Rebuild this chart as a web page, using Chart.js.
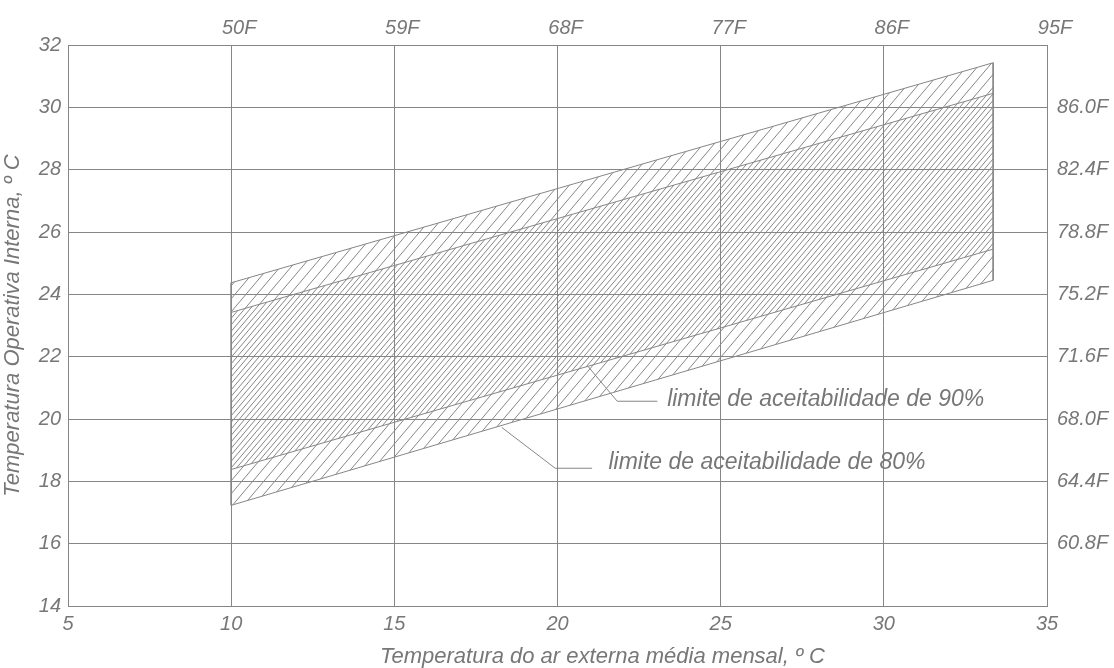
<!DOCTYPE html>
<html>
<head>
<meta charset="utf-8">
<script src="https://cdn.jsdelivr.net/npm/chart.js@4.4.1/dist/chart.umd.min.js"></script>
<style>
  html, body { margin: 0; padding: 0; background: #ffffff; }
  #wrap { width: 1114px; height: 668px; position: relative; }
</style>
</head>
<body>
<div id="wrap"><canvas id="c"></canvas></div>
<script>
// ---- data ----
const xTicksC = [5, 10, 15, 20, 25, 30, 35];
const yTicksC = [14, 16, 18, 20, 22, 24, 26, 28, 30, 32];
const topTickValues = [10, 15, 20, 25, 30, 35];
const topTickLabels = ['50F', '59F', '68F', '77F', '86F', '95F'];
const rightTickValues = [16, 18, 20, 22, 24, 26, 28, 30];
const rightTickLabels = ['60.8F', '64.4F', '68.0F', '71.6F', '75.2F', '78.8F', '82.4F', '86.0F'];

const bandX   = [10, 33.35];
const upper80 = [24.37, 31.43];
const lower80 = [17.23, 24.45];
const upper90 = [23.42, 30.45];
const lower90 = [18.38, 25.45];

const leader90X = [20.94, 21.83, 23.06];
const leader90Y = [21.68, 20.57, 20.57];
const leader80X = [18.29, 19.93, 21.06];
const leader80Y = [19.73, 18.42, 18.42];

const label90 = 'limite de aceitabilidade de 90%';
const label80 = 'limite de aceitabilidade de 80%';
const label90At = [23.36, 20.62];
const label80At = [21.56, 18.60];

const xTitle = 'Temperatura do ar externa média mensal, º C';
const yTitle = 'Temperatura Operativa Interna, º C';

// ---- styles ----
const LINE = '#868686';
const TEXT = '#777777';
const FAMILY = '"Liberation Sans", Arial, Helvetica, sans-serif';
const X_TITLE_SHIFT = 45;   // the reference's bottom title sits right of the plot centre
const X_TITLE_BASELINE = 663;

const canvas = document.getElementById('c');
const ctx = canvas.getContext('2d');

function hatch(offsetFrac) {
  const w = 11, h = 13;
  const t = document.createElement('canvas');
  t.width = w; t.height = h;
  const g = t.getContext('2d');
  g.strokeStyle = LINE;
  g.lineWidth = 1;
  for (let k = -2; k <= 2; k++) {
    const x0 = (k + offsetFrac) * w;
    g.beginPath();
    g.moveTo(x0, h);
    g.lineTo(x0 + w, 0);
    g.stroke();
  }
  return ctx.createPattern(t, 'repeat');
}
const pattern80 = hatch(0);
const pattern90 = hatch(0.5);

const pts = (xs, ys) => xs.map((x, i) => ({ x: x, y: ys[i] }));

const lineDs = (data, extra) => Object.assign({
  data: data,
  borderColor: LINE,
  borderWidth: 1,
  pointRadius: 0,
  showLine: true,
  fill: false,
  tension: 0
}, extra || {});

const annotations = {
  id: 'annotations',
  afterDatasetsDraw(chart) {
    const c = chart.ctx, xs = chart.scales.x, ys = chart.scales.y;
    c.save();
    c.fillStyle = TEXT;
    c.font = 'italic 23px ' + FAMILY;
    c.textBaseline = 'middle';
    c.textAlign = 'left';
    c.fillText(label90, xs.getPixelForValue(label90At[0]), ys.getPixelForValue(label90At[1]));
    c.fillText(label80, xs.getPixelForValue(label80At[0]), ys.getPixelForValue(label80At[1]));
    // bottom axis title
    c.font = 'italic 22px ' + FAMILY;
    c.textAlign = 'center';
    c.textBaseline = 'alphabetic';
    const a = chart.chartArea;
    c.fillText(xTitle, (a.left + a.right) / 2 + X_TITLE_SHIFT, X_TITLE_BASELINE);
    c.restore();
  }
};

const tickFont = { family: FAMILY, size: 20, style: 'italic' };
const titleFont = { family: FAMILY, size: 22, style: 'italic' };

new Chart(ctx, {
  type: 'scatter',
  data: {
    datasets: [
      lineDs(pts(bandX, upper80), { fill: '+1', backgroundColor: pattern80 }),
      lineDs(pts(bandX, lower80)),
      lineDs(pts(bandX, upper90), { fill: '+1', backgroundColor: pattern90 }),
      lineDs(pts(bandX, lower90)),
      lineDs(pts([bandX[1], bandX[1]], [upper80[1], lower80[1]])),
      lineDs(pts([bandX[0], bandX[0]], [upper80[0], lower80[0]])),
      lineDs(pts(leader90X, leader90Y)),
      lineDs(pts(leader80X, leader80Y))
    ]
  },
  options: {
    responsive: true,
    maintainAspectRatio: false,
    animation: false,
    events: [],
    layout: { padding: 0 },
    plugins: { legend: { display: false }, tooltip: { enabled: false } },
    scales: {
      x: {
        type: 'linear', position: 'bottom', min: 5, max: 35,
        afterBuildTicks: s => { s.ticks = xTicksC.map(v => ({ value: v })); },
        afterFit: s => { s.height = 62; },
        grid: { color: LINE, lineWidth: 1, drawTicks: false },
        border: { color: LINE, width: 1 },
        ticks: { color: TEXT, font: tickFont, padding: 6, maxRotation: 0, autoSkip: false },
        title: { display: false }
      },
      x2: {
        type: 'linear', position: 'top', min: 5, max: 35,
        afterBuildTicks: s => { s.ticks = xTicksC.map(v => ({ value: v })); },
        afterFit: s => { s.height = 45; },
        grid: { display: false, drawTicks: false },
        border: { color: LINE, width: 1 },
        ticks: {
          color: TEXT, font: tickFont, padding: 5, maxRotation: 0, autoSkip: false, labelOffset: 8,
          callback: v => { const i = topTickValues.indexOf(v); return i >= 0 ? topTickLabels[i] : ''; }
        }
      },
      y: {
        type: 'linear', position: 'left', min: 14, max: 32,
        afterBuildTicks: s => { s.ticks = yTicksC.map(v => ({ value: v })); },
        afterFit: s => { s.width = 68; },
        grid: { color: LINE, lineWidth: 1, drawTicks: false },
        border: { color: LINE, width: 1 },
        ticks: { color: TEXT, font: tickFont, padding: 7, autoSkip: false },
        title: { display: true, text: yTitle, color: TEXT, font: titleFont, padding: { top: 0, bottom: 0 } }
      },
      y2: {
        type: 'linear', position: 'right', min: 14, max: 32,
        afterBuildTicks: s => { s.ticks = yTicksC.map(v => ({ value: v })); },
        afterFit: s => { s.width = 67; },
        grid: { display: false, drawTicks: false },
        border: { color: LINE, width: 1 },
        ticks: {
          color: TEXT, font: tickFont, padding: 10, autoSkip: false,
          callback: v => { const i = rightTickValues.indexOf(v); return i >= 0 ? rightTickLabels[i] : ''; }
        }
      }
    }
  },
  plugins: [annotations]
});
</script>
</body>
</html>
